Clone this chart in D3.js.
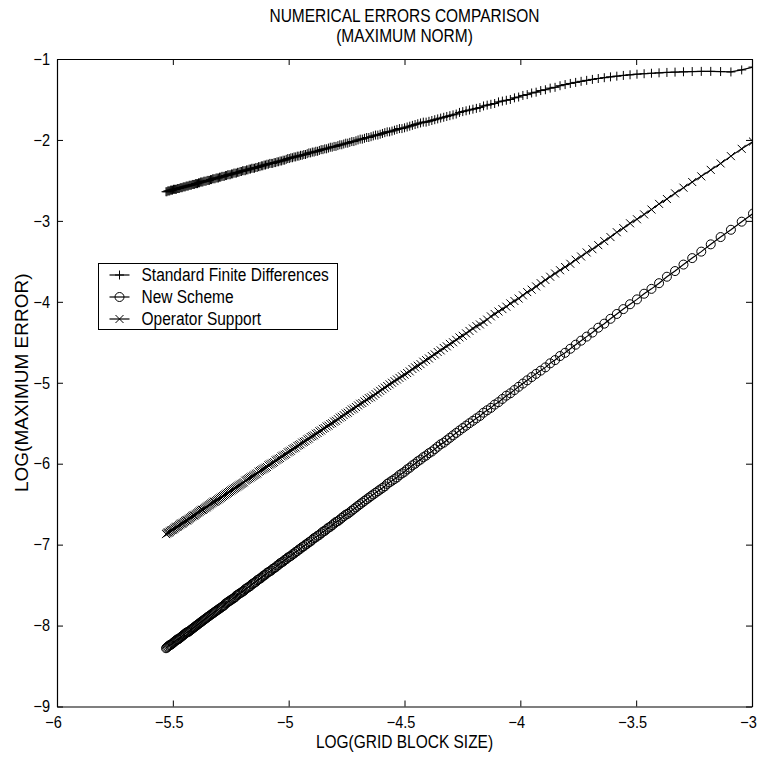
<!DOCTYPE html>
<html>
<head>
<meta charset="utf-8">
<script src="https://cdn.jsdelivr.net/npm/d3@7"></script>
<style>
  html, body { margin: 0; padding: 0; background: #fff; }
  svg { display: block; font-family: "Liberation Sans", Arial, Helvetica, sans-serif; }
</style>
</head>
<body>
<div id="container"></div>
<script>
/* DATA (log of grid block size, log of max error, one point per grid) */
const logGridSize = [
  -2.9957,-3.0445,-3.0910,-3.1355,-3.1781,-3.2189,-3.2581,-3.2958,-3.3322,-3.3673,
  -3.4012,-3.4340,-3.4657,-3.4965,-3.5264,-3.5553,-3.5835,-3.6109,-3.6376,-3.6636,
  -3.6889,-3.7136,-3.7377,-3.7612,-3.7842,-3.8067,-3.8286,-3.8501,-3.8712,-3.8918,
  -3.9120,-3.9318,-3.9512,-3.9703,-3.9890,-4.0073,-4.0254,-4.0431,-4.0604,-4.0775,
  -4.0943,-4.1109,-4.1271,-4.1431,-4.1589,-4.1744,-4.1897,-4.2047,-4.2195,-4.2341,
  -4.2485,-4.2627,-4.2767,-4.2905,-4.3041,-4.3175,-4.3307,-4.3438,-4.3567,-4.3694,
  -4.3820,-4.3944,-4.4067,-4.4188,-4.4308,-4.4427,-4.4543,-4.4659,-4.4773,-4.4886,
  -4.4998,-4.5109,-4.5218,-4.5326,-4.5433,-4.5539,-4.5643,-4.5747,-4.5850,-4.5951,
  -4.6052,-4.6151,-4.6250,-4.6347,-4.6444,-4.6540,-4.6634,-4.6728,-4.6821,-4.6913,
  -4.7005,-4.7095,-4.7185,-4.7274,-4.7362,-4.7449,-4.7536,-4.7622,-4.7707,-4.7791,
  -4.7875,-4.7958,-4.8040,-4.8122,-4.8203,-4.8283,-4.8363,-4.8442,-4.8520,-4.8598,
  -4.8675,-4.8752,-4.8828,-4.8903,-4.8978,-4.9053,-4.9127,-4.9200,-4.9273,-4.9345,
  -4.9416,-4.9488,-4.9558,-4.9628,-4.9698,-4.9767,-4.9836,-4.9904,-4.9972,-5.0039,
  -5.0106,-5.0173,-5.0239,-5.0304,-5.0370,-5.0434,-5.0499,-5.0562,-5.0626,-5.0689,
  -5.0752,-5.0814,-5.0876,-5.0938,-5.0999,-5.1059,-5.1120,-5.1180,-5.1240,-5.1299,
  -5.1358,-5.1417,-5.1475,-5.1533,-5.1591,-5.1648,-5.1705,-5.1761,-5.1818,-5.1874,
  -5.1930,-5.1985,-5.2040,-5.2095,-5.2149,-5.2204,-5.2257,-5.2311,-5.2364,-5.2417,
  -5.2470,-5.2523,-5.2575,-5.2627,-5.2679,-5.2730,-5.2781,-5.2832,-5.2883,-5.2933,
  -5.2983,-5.3033,-5.3083,-5.3132,-5.3181,-5.3230,-5.3279,-5.3327,-5.3375,-5.3423,
  -5.3471,-5.3519,-5.3566,-5.3613,-5.3660,-5.3706,-5.3753,-5.3799,-5.3845,-5.3891,
  -5.3936,-5.3982,-5.4027,-5.4072,-5.4116,-5.4161,-5.4205,-5.4250,-5.4293,-5.4337,
  -5.4381,-5.4424,-5.4467,-5.4510,-5.4553,-5.4596,-5.4638,-5.4681,-5.4723,-5.4765,
  -5.4806,-5.4848,-5.4889,-5.4931,-5.4972,-5.5013,-5.5053,-5.5094,-5.5134,-5.5175,
  -5.5215,-5.5255,-5.5294
]

const stdFiniteDiff = [
  -1.100,-1.135,-1.160,-1.155,-1.153,-1.153,-1.155,-1.158,-1.162,-1.166,
  -1.171,-1.176,-1.182,-1.188,-1.195,-1.203,-1.212,-1.221,-1.231,-1.241,
  -1.252,-1.264,-1.276,-1.289,-1.302,-1.316,-1.330,-1.35,-1.36,-1.38,
  -1.39,-1.41,-1.42,-1.44,-1.45,-1.47,-1.48,-1.50,-1.51,-1.52,
  -1.53,-1.55,-1.56,-1.57,-1.58,-1.60,-1.61,-1.62,-1.63,-1.64,
  -1.65,-1.66,-1.68,-1.69,-1.70,-1.71,-1.72,-1.73,-1.74,-1.75,
  -1.76,-1.77,-1.78,-1.78,-1.79,-1.80,-1.81,-1.82,-1.83,-1.84,
  -1.85,-1.86,-1.86,-1.87,-1.88,-1.89,-1.90,-1.90,-1.91,-1.92,
  -1.93,-1.94,-1.94,-1.95,-1.96,-1.97,-1.97,-1.98,-1.99,-1.99,
  -2.00,-2.01,-2.02,-2.02,-2.03,-2.04,-2.04,-2.05,-2.06,-2.06,
  -2.07,-2.08,-2.08,-2.09,-2.09,-2.10,-2.11,-2.11,-2.12,-2.12,
  -2.13,-2.14,-2.14,-2.15,-2.15,-2.16,-2.16,-2.17,-2.18,-2.18,
  -2.19,-2.19,-2.20,-2.20,-2.21,-2.21,-2.22,-2.22,-2.23,-2.23,
  -2.24,-2.25,-2.25,-2.26,-2.26,-2.27,-2.27,-2.28,-2.28,-2.29,
  -2.29,-2.29,-2.30,-2.30,-2.31,-2.31,-2.32,-2.32,-2.33,-2.33,
  -2.34,-2.34,-2.35,-2.35,-2.35,-2.36,-2.36,-2.37,-2.37,-2.38,
  -2.38,-2.38,-2.39,-2.39,-2.40,-2.40,-2.41,-2.41,-2.41,-2.42,
  -2.42,-2.43,-2.43,-2.43,-2.44,-2.44,-2.45,-2.45,-2.45,-2.46,
  -2.46,-2.47,-2.47,-2.47,-2.48,-2.48,-2.48,-2.49,-2.49,-2.50,
  -2.50,-2.50,-2.51,-2.51,-2.51,-2.52,-2.52,-2.52,-2.53,-2.53,
  -2.54,-2.54,-2.54,-2.55,-2.55,-2.55,-2.56,-2.56,-2.56,-2.57,
  -2.57,-2.57,-2.58,-2.58,-2.58,-2.59,-2.59,-2.59,-2.60,-2.60,
  -2.60,-2.61,-2.61,-2.61,-2.61,-2.62,-2.62,-2.62,-2.63,-2.63,
  -2.63,-2.64,-2.64
]

const newScheme = [
  -2.91,-3.01,-3.11,-3.20,-3.29,-3.38,-3.46,-3.54,-3.62,-3.69,
  -3.77,-3.84,-3.90,-3.97,-4.03,-4.09,-4.15,-4.21,-4.27,-4.32,
  -4.38,-4.43,-4.48,-4.53,-4.58,-4.63,-4.67,-4.72,-4.76,-4.81,
  -4.85,-4.89,-4.93,-4.97,-5.01,-5.05,-5.09,-5.13,-5.16,-5.20,
  -5.24,-5.27,-5.31,-5.34,-5.37,-5.41,-5.44,-5.47,-5.50,-5.53,
  -5.56,-5.59,-5.62,-5.65,-5.68,-5.71,-5.74,-5.76,-5.79,-5.82,
  -5.85,-5.87,-5.90,-5.92,-5.95,-5.97,-6.00,-6.02,-6.05,-6.07,
  -6.10,-6.12,-6.14,-6.17,-6.19,-6.21,-6.23,-6.25,-6.28,-6.30,
  -6.32,-6.34,-6.36,-6.38,-6.40,-6.42,-6.44,-6.46,-6.48,-6.50,
  -6.52,-6.54,-6.56,-6.58,-6.60,-6.62,-6.63,-6.65,-6.67,-6.69,
  -6.71,-6.72,-6.74,-6.76,-6.78,-6.79,-6.81,-6.83,-6.84,-6.86,
  -6.88,-6.89,-6.91,-6.92,-6.94,-6.96,-6.97,-6.99,-7.00,-7.02,
  -7.03,-7.05,-7.06,-7.08,-7.09,-7.11,-7.12,-7.14,-7.15,-7.16,
  -7.18,-7.19,-7.21,-7.22,-7.23,-7.25,-7.26,-7.28,-7.29,-7.30,
  -7.32,-7.33,-7.34,-7.35,-7.37,-7.38,-7.39,-7.41,-7.42,-7.43,
  -7.44,-7.46,-7.47,-7.48,-7.49,-7.51,-7.52,-7.53,-7.54,-7.55,
  -7.57,-7.58,-7.59,-7.60,-7.61,-7.62,-7.63,-7.65,-7.66,-7.67,
  -7.68,-7.69,-7.70,-7.71,-7.72,-7.73,-7.75,-7.76,-7.77,-7.78,
  -7.79,-7.80,-7.81,-7.82,-7.83,-7.84,-7.85,-7.86,-7.87,-7.88,
  -7.89,-7.90,-7.91,-7.92,-7.93,-7.94,-7.95,-7.96,-7.97,-7.98,
  -7.99,-8.00,-8.01,-8.02,-8.03,-8.04,-8.05,-8.06,-8.07,-8.08,
  -8.08,-8.09,-8.10,-8.11,-8.12,-8.13,-8.14,-8.15,-8.16,-8.17,
  -8.17,-8.18,-8.19,-8.20,-8.21,-8.22,-8.23,-8.24,-8.24,-8.25,
  -8.26,-8.27,-8.28
]

const operatorSupport = [
  -2.02,-2.11,-2.20,-2.29,-2.37,-2.45,-2.52,-2.59,-2.66,-2.73,
  -2.79,-2.86,-2.92,-2.98,-3.03,-3.09,-3.14,-3.20,-3.25,-3.30,
  -3.35,-3.39,-3.44,-3.48,-3.53,-3.57,-3.61,-3.65,-3.69,-3.73,
  -3.77,-3.81,-3.85,-3.88,-3.92,-3.96,-3.99,-4.02,-4.06,-4.09,
  -4.12,-4.15,-4.18,-4.22,-4.25,-4.28,-4.30,-4.33,-4.36,-4.39,
  -4.42,-4.44,-4.47,-4.50,-4.52,-4.55,-4.57,-4.60,-4.62,-4.65,
  -4.67,-4.70,-4.72,-4.74,-4.77,-4.79,-4.81,-4.83,-4.86,-4.88,
  -4.90,-4.92,-4.94,-4.96,-4.98,-5.00,-5.02,-5.04,-5.06,-5.08,
  -5.10,-5.12,-5.14,-5.16,-5.18,-5.19,-5.21,-5.23,-5.25,-5.26,
  -5.28,-5.30,-5.32,-5.33,-5.35,-5.37,-5.38,-5.40,-5.42,-5.43,
  -5.45,-5.47,-5.48,-5.50,-5.51,-5.53,-5.54,-5.56,-5.57,-5.59,
  -5.60,-5.62,-5.63,-5.65,-5.66,-5.67,-5.69,-5.70,-5.72,-5.73,
  -5.74,-5.76,-5.77,-5.78,-5.80,-5.81,-5.82,-5.84,-5.85,-5.86,
  -5.88,-5.89,-5.90,-5.91,-5.93,-5.94,-5.95,-5.96,-5.98,-5.99,
  -6.00,-6.01,-6.02,-6.04,-6.05,-6.06,-6.07,-6.08,-6.09,-6.10,
  -6.12,-6.13,-6.14,-6.15,-6.16,-6.17,-6.18,-6.19,-6.20,-6.21,
  -6.23,-6.24,-6.25,-6.26,-6.27,-6.28,-6.29,-6.30,-6.31,-6.32,
  -6.33,-6.34,-6.35,-6.36,-6.37,-6.38,-6.39,-6.40,-6.41,-6.42,
  -6.43,-6.44,-6.45,-6.46,-6.47,-6.47,-6.48,-6.49,-6.50,-6.51,
  -6.52,-6.53,-6.54,-6.55,-6.56,-6.57,-6.57,-6.58,-6.59,-6.60,
  -6.61,-6.62,-6.63,-6.64,-6.64,-6.65,-6.66,-6.67,-6.68,-6.69,
  -6.70,-6.70,-6.71,-6.72,-6.73,-6.74,-6.74,-6.75,-6.76,-6.77,
  -6.78,-6.78,-6.79,-6.80,-6.81,-6.82,-6.82,-6.83,-6.84,-6.85,
  -6.85,-6.86,-6.87
]

const seriesNames = ["Standard Finite Differences", "New Scheme", "Operator Support"]
const seriesMarkers = ["plus", "circle", "cross"]
const xTicks = [-6, -5.5, -5, -4.5, -4, -3.5, -3]
const yTicks = [-9, -8, -7, -6, -5, -4, -3, -2, -1]
const titleLines = ["NUMERICAL ERRORS COMPARISON", "(MAXIMUM NORM)"]
const xLabel = "LOG(GRID BLOCK SIZE)"
const yLabel = "LOG(MAXIMUM ERROR)"

/* CONSTANTS */
const width = 759, height = 758
const plot = { left: 57, right: 752, top: 59, bottom: 706.5 }
const textSize = 18, tickSize = 16.5

const series = [stdFiniteDiff, newScheme, operatorSupport].map((ys, i) => ({
  name: seriesNames[i],
  marker: seriesMarkers[i],
  values: ys.map((v, j) => ({ x: logGridSize[j], y: v }))
}))

const x = d3.scaleLinear().domain([-6, -3]).range([plot.left, plot.right])
const y = d3.scaleLinear().domain([-9, -1]).range([plot.bottom, plot.top])

const svg = d3.select("#container")
  .append("svg")
  .attr("width", width)
  .attr("height", height)
  .style("background", "#fff")

svg.append("defs").append("clipPath")
  .attr("id", "plotClip")
  .append("rect")
  .attr("x", plot.left)
  .attr("y", plot.top)
  .attr("width", plot.right - plot.left)
  .attr("height", plot.bottom - plot.top)

// the original print uses a narrow helvetica, squeeze the glyphs a bit
function condense(sel, ratio) {
  sel.each(function () {
    const len = this.getComputedTextLength()
    d3.select(this)
      .attr("textLength", len * ratio)
      .attr("lengthAdjust", "spacingAndGlyphs")
  })
}

// marker shapes
function drawMarker(sel, kind) {
  if (kind === "circle") {
    sel.append("circle").attr("r", 4.5).attr("fill", "none")
  } else if (kind === "plus") {
    sel.append("path").attr("d", "M-4.5,0H4.5M0,-4.5V4.5")
  } else {
    sel.append("path").attr("d", "M-4,-4L4,4M-4,4L4,-4")
  }
}

const lineGen = d3.line().x(d => x(d.x)).y(d => y(d.y))

const plotArea = svg.append("g").attr("clip-path", "url(#plotClip)")

series.forEach(s => {
  const g = plotArea.append("g")
    .attr("fill", "none")
    .attr("stroke", "#000")
    .attr("stroke-width", 1)

  g.append("path")
    .datum(s.values)
    .attr("d", lineGen)
    .attr("stroke-width", 1.2)

  g.selectAll(".mark")
    .data(s.values)
    .join("g")
    .attr("class", "mark")
    .attr("transform", d => `translate(${x(d.x)},${y(d.y)})`)
    .each(function () { drawMarker(d3.select(this), s.marker) })
})

// AXES (box with inward ticks on all sides)
const fmt = d3.format("")
function styleAxis(g) {
  g.attr("font-size", tickSize)
    .attr("font-family", "Liberation Sans, Arial, Helvetica, sans-serif")
  g.selectAll("path.domain").attr("stroke", "#000").attr("stroke-width", 1.2)
  g.selectAll(".tick line").attr("stroke", "#000")
  g.selectAll(".tick text").attr("fill", "#000")
}

svg.append("g")
  .attr("transform", `translate(0,${plot.bottom})`)
  .call(d3.axisBottom(x).tickValues(xTicks).tickSize(-6).tickSizeOuter(0).tickPadding(10).tickFormat(fmt))
  .call(styleAxis)
  .selectAll(".tick text").attr("dx", -4).call(condense, 0.88)

svg.append("g")
  .attr("transform", `translate(0,${plot.top})`)
  .call(d3.axisTop(x).tickValues(xTicks).tickSize(-6).tickSizeOuter(0).tickFormat(() => ""))
  .call(styleAxis)

svg.append("g")
  .attr("transform", `translate(${plot.left},0)`)
  .call(d3.axisLeft(y).tickValues(yTicks).tickSize(-6).tickSizeOuter(0).tickPadding(7).tickFormat(fmt))
  .call(styleAxis)
  .selectAll(".tick text").call(condense, 0.88)

svg.append("g")
  .attr("transform", `translate(${plot.right},0)`)
  .call(d3.axisRight(y).tickValues(yTicks).tickSize(-6).tickSizeOuter(0).tickFormat(() => ""))
  .call(styleAxis)

// TITLES
const cx = (plot.left + plot.right) / 2
svg.selectAll(".title")
  .data(titleLines)
  .join("text")
  .attr("class", "title")
  .attr("x", cx)
  .attr("y", (d, i) => 22 + i * 20)
  .attr("text-anchor", "middle")
  .attr("font-size", textSize)
  .text(d => d)
  .call(condense, 0.86)

svg.append("text")
  .attr("x", cx)
  .attr("y", 748)
  .attr("text-anchor", "middle")
  .attr("font-size", textSize)
  .text(xLabel)
  .call(condense, 0.86)

svg.append("text")
  .attr("transform", `translate(21,${(plot.top + plot.bottom) / 2}) rotate(-90)`)
  .attr("text-anchor", "middle")
  .attr("dominant-baseline", "central")
  .attr("font-size", 19)
  .text(yLabel)

// LEGEND
const legend = svg.append("g").attr("transform", "translate(98.5,263.5)")
legend.append("rect")
  .attr("width", 239)
  .attr("height", 66)
  .attr("fill", "#fff")
  .attr("stroke", "#000")

const rows = legend.selectAll(".row")
  .data(series)
  .join("g")
  .attr("class", "row")
  .attr("transform", (d, i) => `translate(0,${11.5 + i * 22})`)

rows.append("line")
  .attr("x1", 11).attr("x2", 31)
  .attr("stroke", "#000")
  .attr("stroke-width", 1.2)

rows.append("g")
  .attr("transform", "translate(21,0)")
  .attr("fill", "none")
  .attr("stroke", "#000")
  .each(function (d) { drawMarker(d3.select(this), d.marker) })

rows.append("text")
  .attr("x", 43)
  .attr("dominant-baseline", "central")
  .attr("font-size", textSize)
  .text(d => d.name)
  .call(condense, 0.86)
</script>
</body>
</html>
